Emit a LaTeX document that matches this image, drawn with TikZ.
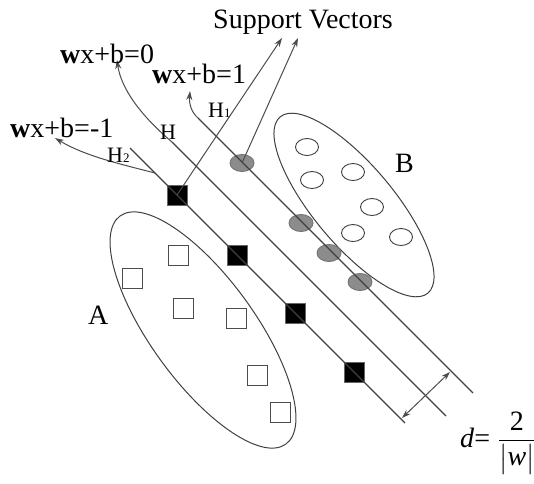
\documentclass[tikz,border=0pt]{standalone}
\usepackage{fontspec}
\setmainfont{Liberation Serif}
\usepackage{xcolor}
\usepackage{amsmath}
\usetikzlibrary{shapes.geometric,arrows.meta}

\begin{document}
\begin{tikzpicture}[x=1pt, y=-1pt,
                clusternode/.style={ellipse, draw=black!75, line width=1pt, inner sep=0pt},
                opensquare/.style={rectangle, draw=black!70, fill=white, line width=0.9pt, minimum size=20pt, inner sep=0pt},
                blacksquare/.style={rectangle, draw=black!60, fill=black, line width=0.9pt, minimum size=20pt, inner sep=0pt},
                opencircle/.style={ellipse, draw=black!75, fill=white, line width=0.9pt, minimum width=23pt, minimum height=17pt, inner sep=0pt},
                graycircle/.style={ellipse, draw=black!55, fill=black!45, line width=0.9pt, minimum width=24pt, minimum height=17pt, inner sep=0pt},
                hyperline/.style={draw=black!75, line width=1.2pt},
                arrow/.style={draw=black!70, line width=1pt, -{Stealth[length=9pt, width=6pt]}},
                bigtext/.style={font=\fontsize{28}{30}\selectfont, inner sep=0pt, anchor=base west},
                smalltext/.style={font=\fontsize{22}{24}\selectfont, inner sep=0pt, anchor=base west}
                ]
                \useasboundingbox (0,0) rectangle (534,483);
                \node[clusternode, rotate=-54, minimum width=282pt, minimum height=104pt] (setA) at (203,330) {};
                \node[clusternode, rotate=-50, minimum width=230pt, minimum height=80pt] (setB) at (354,205) {};
                \node[opensquare] (a1) at (178,255) {};
                \node[opensquare] (a2) at (132,278) {};
                \node[opensquare] (a3) at (183,308) {};
                \node[opensquare] (a4) at (236,318) {};
                \node[opensquare] (a5) at (257,375) {};
                \node[opensquare] (a6) at (280,412) {};
                \node[opencircle] (b1) at (307,147) {};
                \node[opencircle] (b2) at (312,180) {};
                \node[opencircle] (b3) at (353,172) {};
                \node[opencircle] (b4) at (372,207) {};
                \node[opencircle] (b5) at (353,233) {};
                \node[opencircle] (b6) at (401,237) {};
                \node[blacksquare] (sv1) at (177,195) {};
                \node[blacksquare] (sv2) at (237,255) {};
                \node[blacksquare] (sv3) at (295,313) {};
                \node[blacksquare] (sv4) at (354,372) {};
                \node[graycircle] (gv1) at (242,163) {};
                \node[graycircle] (gv2) at (301,223) {};
                \node[graycircle] (gv3) at (329,253) {};
                \node[graycircle] (gv4) at (360,282) {};
                \coordinate (hTwoTop) at (130,148);
                \coordinate (hTwoEnd) at (405,423);
                \coordinate (hTwoFoot) at (155,173);
                \coordinate (hTop) at (172,142);
                \coordinate (hEnd) at (446,416);
                \coordinate (hOneTop) at (198,118);
                \coordinate (hOneEnd) at (473,393);
                \coordinate (tipZero) at (117,60);
                \coordinate (tipOne) at (190,91);
                \coordinate (tipMinus) at (55,138);
                \coordinate (svTipA) at (282,38);
                \coordinate (svTipB) at (298,38);
                \coordinate (dLow) at (402,418);
                \coordinate (dHigh) at (450,372);
                \draw[hyperline] (hTwoTop) -- (hTwoEnd);
                \draw[hyperline] (hTop) -- (hEnd);
                \draw[hyperline] (hOneTop) -- (hOneEnd);
                \draw[arrow] (hTop) .. controls (140,115) and (121,88) .. (tipZero);
                \draw[arrow] (hOneTop) .. controls (191,112) and (189,103) .. (tipOne);
                \draw[arrow] (hTwoFoot) .. controls (120,164) and (85,156) .. (tipMinus);
                \draw[arrow] (sv1.center) -- (svTipA);
                \draw[arrow] (gv1.center) -- (svTipB);
                \draw[arrow, {Stealth[length=9pt, width=6pt]}-{Stealth[length=9pt, width=6pt]}] (dLow) -- (dHigh);
                \node[bigtext] (lblZero) at (60,63) {\textbf{w}x+b=0};
                \node[bigtext] (lblOne) at (152,83) {\textbf{w}x+b=1};
                \node[bigtext] (lblMinus) at (10,137) {\textbf{w}x+b=-1};
                \node[bigtext] (lblSupport) at (213,28) {Support Vectors};
                \node[smalltext] (lblH) at (160,139) {H};
                \node[smalltext] (lblHOne) at (208,117) {H{\fontsize{13}{13}\selectfont 1}};
                \node[smalltext] (lblHTwo) at (107,162) {H{\fontsize{13}{13}\selectfont 2}};
                \node[bigtext] (lblA) at (88,324) {A};
                \node[bigtext] (lblB) at (395,172) {B};
                \node[bigtext] (lblDist) at (460,447) {\textit{d}=\hspace{8pt}$\dfrac{\mbox{2}}{\bigl|\mbox{\textit{w}}\bigr|}$};
            \end{tikzpicture}
\end{document}
